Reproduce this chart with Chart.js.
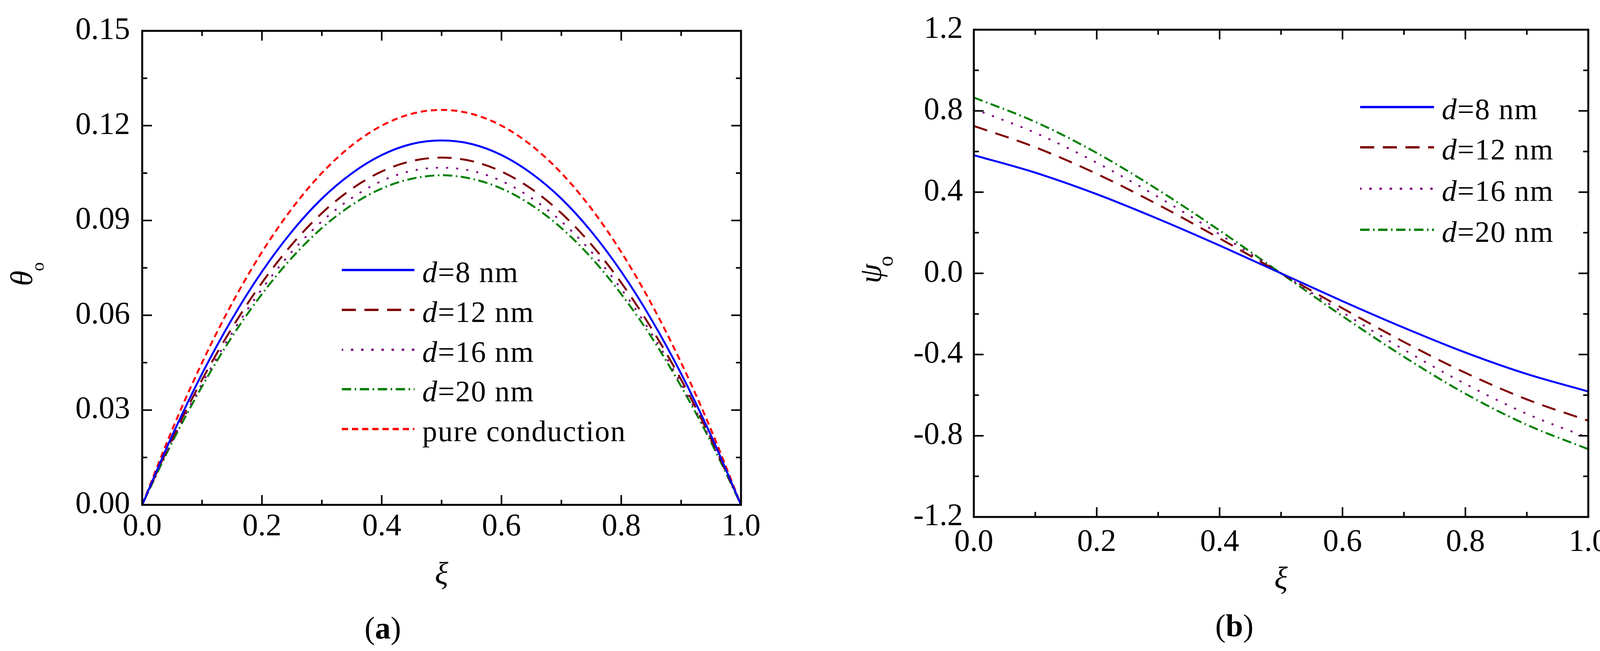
<!DOCTYPE html>
<html>
<head>
<meta charset="utf-8">
<script src="https://cdn.jsdelivr.net/npm/chart.js@4.4.0/dist/chart.umd.min.js"></script>
<style>
  html, body { margin: 0; padding: 0; background: #fff; overflow: hidden; }
  #page { position: relative; width: 4135px; height: 1666px; overflow: hidden;
          font-family: "Liberation Serif", "Times New Roman", serif; color: #000; }
  .box { position: absolute; top: 0; height: 1666px; }
  .legend { position: absolute; top: 0; }
  .row { position: absolute; left: 0; height: 100px; display: flex; align-items: center;
         white-space: nowrap; font-size: 76px; letter-spacing: 2px; }
  .row svg { flex: none; margin-right: 20px; }
  .row span { line-height: 100px; position: relative; top: 5px; }
  .tag { position: absolute; font-size: 80px; transform: translate(-50%, -50%); white-space: nowrap; }
</style>
</head>
<body>
<div id="page">
  <div class="box" style="left:0;width:2067px"><canvas id="chartA"></canvas></div>
  <div class="box" style="left:2067px;width:2068px"><canvas id="chartB"></canvas></div>
  <div class="legend" id="legendA" style="left:875px"></div>
  <div class="legend" id="legendB" style="left:3482px"></div>
  <div class="tag" style="left:980px;top:1607px">(<b>a</b>)</div>
  <div class="tag" style="left:3160px;top:1601px">(<b>b</b>)</div>
</div>
<script>
'use strict'

// ---- data, panel (a): theta_o vs xi ----
const xiA = [0, 0.05, 0.1, 0.15, 0.2, 0.25, 0.3, 0.35, 0.4, 0.45, 0.5,
  0.55, 0.6, 0.65, 0.7, 0.75, 0.8, 0.85, 0.9, 0.95, 1];
const thetaD8 = [0, 0.0219, 0.0415, 0.0588, 0.0738, 0.0865, 0.0969, 0.1049, 0.1107, 0.1142, 0.1153,
  0.1142, 0.1107, 0.1049, 0.0969, 0.0865, 0.0738, 0.0588, 0.0415, 0.0219, 0];
const thetaD12 = [0, 0.0209, 0.0396, 0.0560, 0.0703, 0.0824, 0.0923, 0.1000, 0.1055, 0.1088, 0.1099,
  0.1088, 0.1055, 0.1000, 0.0923, 0.0824, 0.0703, 0.0560, 0.0396, 0.0209, 0];
const thetaD16 = [0, 0.0203, 0.0384, 0.0544, 0.0683, 0.0801, 0.0897, 0.0971, 0.1025, 0.1057, 0.1067,
  0.1057, 0.1025, 0.0971, 0.0897, 0.0801, 0.0683, 0.0544, 0.0384, 0.0203, 0];
const thetaD20 = [0, 0.0198, 0.0375, 0.0532, 0.0667, 0.0782, 0.0876, 0.0949, 0.1001, 0.1032, 0.1043,
  0.1032, 0.1001, 0.0949, 0.0876, 0.0782, 0.0667, 0.0532, 0.0375, 0.0198, 0];
const thetaPure = [0, 0.02375, 0.045, 0.06375, 0.08, 0.09375, 0.105, 0.11375, 0.12, 0.12375, 0.125,
  0.12375, 0.12, 0.11375, 0.105, 0.09375, 0.08, 0.06375, 0.045, 0.02375, 0];

// ---- data, panel (b): psi_o vs xi ----
const xiB = [0, 0.1, 0.2, 0.3, 0.4, 0.5, 0.6, 0.7, 0.8, 0.9, 1];
const psiD8 = [0.582, 0.496, 0.390, 0.268, 0.137, 0, -0.137, -0.268, -0.390, -0.496, -0.582];
const psiD12 = [0.726, 0.621, 0.490, 0.338, 0.172, 0, -0.172, -0.338, -0.490, -0.621, -0.726];
const psiD16 = [0.810, 0.692, 0.545, 0.376, 0.192, 0, -0.192, -0.376, -0.545, -0.692, -0.810];
const psiD20 = [0.866, 0.746, 0.593, 0.411, 0.211, 0, -0.211, -0.411, -0.593, -0.746, -0.866];

// ---- axes ----
const xMajor = [0, 0.2, 0.4, 0.6, 0.8, 1.0];
const xMinor = [0.1, 0.3, 0.5, 0.7, 0.9];
const xLabels = ['0.0', '0.2', '0.4', '0.6', '0.8', '1.0'];
const yMajorA = [0, 0.03, 0.06, 0.09, 0.12, 0.15];
const yMinorA = [0.015, 0.045, 0.075, 0.105, 0.135];
const yLabelsA = ['0.00', '0.03', '0.06', '0.09', '0.12', '0.15'];
const yMajorB = [-1.2, -0.8, -0.4, 0, 0.4, 0.8, 1.2];
const yMinorB = [-1.0, -0.6, -0.2, 0.2, 0.6, 1.0];
const yLabelsB = ['-1.2', '-0.8', '-0.4', '0.0', '0.4', '0.8', '1.2'];

// ---- line looks ----
const looks = [
  { color: '#0000ff', dash: [], cap: 'butt' },
  { color: '#800000', dash: [36, 22], cap: 'butt' },
  { color: '#800080', dash: [1, 25], cap: 'round' },
  { color: '#008000', dash: [24, 9, 4, 9], cap: 'butt' },
  { color: '#ff0000', dash: [16, 10], cap: 'butt' }
];

const serif = '"Liberation Serif", "Times New Roman", serif';
Chart.defaults.font.family = serif;
Chart.defaults.color = '#000';

function pts(xs, ys) {
  return xs.map((v, i) => ({ x: v, y: ys[i] }));
}

function makeSet(label, xs, ys, look) {
  return {
    label: label,
    data: pts(xs, ys),
    borderColor: look.color,
    borderWidth: 5,
    borderDash: look.dash,
    borderCapStyle: look.cap,
    pointRadius: 0,
    fill: false,
    cubicInterpolationMode: 'monotone'
  };
}

// frame, inward ticks on all four sides, axis titles
const frameTicks = {
  id: 'frameTicks',
  afterDatasetsDraw(chart, args, opts) {
    const ctx = chart.ctx;
    const a = chart.chartArea;
    const x = chart.scales.x;
    const y = chart.scales.y;
    ctx.save();
    ctx.strokeStyle = '#000';
    ctx.lineWidth = 5;
    ctx.strokeRect(a.left, a.top, a.right - a.left, a.bottom - a.top);
    ctx.lineWidth = 4;
    ctx.beginPath();
    function xt(list, len) {
      list.forEach(v => {
        const px = x.getPixelForValue(v);
        ctx.moveTo(px, a.bottom); ctx.lineTo(px, a.bottom - len);
        ctx.moveTo(px, a.top); ctx.lineTo(px, a.top + len);
      });
    }
    function yt(list, len) {
      list.forEach(v => {
        const py = y.getPixelForValue(v);
        ctx.moveTo(a.left, py); ctx.lineTo(a.left + len, py);
        ctx.moveTo(a.right, py); ctx.lineTo(a.right - len, py);
      });
    }
    xt(opts.xMajor, 25); xt(opts.xMinor, 13);
    yt(opts.yMajor, 25); yt(opts.yMinor, 13);
    ctx.stroke();

    // x title
    ctx.fillStyle = '#000';
    ctx.font = 'italic 80px ' + serif;
    ctx.textAlign = 'center';
    ctx.textBaseline = 'middle';
    ctx.fillText('ξ', (a.left + a.right) / 2, a.bottom + opts.xTitleDy);

    // y title, rotated, with subscript
    ctx.translate(a.left + opts.yTitleDx, a.top + opts.yTitleDy);
    ctx.rotate(-Math.PI / 2);
    ctx.textAlign = 'left';
    ctx.textBaseline = 'alphabetic';
    ctx.font = 'italic 80px ' + serif;
    ctx.fillText(opts.yTitle, 0, 0);
    ctx.font = opts.subSize + 'px ' + serif;
    ctx.fillText(opts.ySub, opts.subX, opts.subDrop);
    ctx.restore();
  }
};

function xScale(height, pad) {
  return {
    type: 'linear', min: 0, max: 1,
    grid: { display: false, drawTicks: false },
    border: { display: false },
    ticks: { font: { size: 80 }, padding: pad, maxRotation: 0, autoSkip: false,
             callback: (v, i) => xLabels[i] },
    afterBuildTicks: s => { s.ticks = xMajor.map(v => ({ value: v })); },
    afterFit: s => { s.height = height; }
  };
}

function yScale(min, max, major, labels, width, pad) {
  return {
    type: 'linear', min: min, max: max,
    grid: { display: false, drawTicks: false },
    border: { display: false },
    ticks: { font: { size: 80 }, padding: pad, autoSkip: false,
             callback: (v, i) => labels[i] },
    afterBuildTicks: s => { s.ticks = major.map(v => ({ value: v })); },
    afterFit: s => { s.width = width; }
  };
}

const legendA = ['d=8 nm', 'd=12 nm', 'd=16 nm', 'd=20 nm', 'pure conduction'];

new Chart(document.getElementById('chartA'), {
  type: 'line',
  data: {
    datasets: [
      makeSet(legendA[0], xiA, thetaD8, looks[0]),
      makeSet(legendA[1], xiA, thetaD12, looks[1]),
      makeSet(legendA[2], xiA, thetaD16, looks[2]),
      makeSet(legendA[3], xiA, thetaD20, looks[3]),
      makeSet(legendA[4], xiA, thetaPure, looks[4])
    ]
  },
  options: {
    animation: false,
    responsive: true,
    maintainAspectRatio: false,
    devicePixelRatio: 1,
    layout: { padding: { left: 0, right: 170, top: 55, bottom: 0 } },
    plugins: {
      legend: { display: false },
      tooltip: { enabled: false },
      frameTicks: {
        xMajor: xMajor, xMinor: xMinor, yMajor: yMajorA, yMinor: yMinorA,
        xTitleDy: 181, yTitleDx: -282, yTitleDy: 653,
        yTitle: 'θ', ySub: 'o', subSize: 46, subX: 38, subDrop: 30
      }
    },
    scales: {
      x: xScale(374, 9),
      y: yScale(0, 0.15, yMajorA, yLabelsA, 364, 31)
    }
  },
  plugins: [frameTicks]
});

const legendB = ['d=8 nm', 'd=12 nm', 'd=16 nm', 'd=20 nm'];

new Chart(document.getElementById('chartB'), {
  type: 'line',
  data: {
    datasets: [
      makeSet(legendB[0], xiB, psiD8, looks[0]),
      makeSet(legendB[1], xiB, psiD12, looks[1]),
      makeSet(legendB[2], xiB, psiD16, looks[2]),
      makeSet(legendB[3], xiB, psiD20, looks[3])
    ]
  },
  options: {
    animation: false,
    responsive: true,
    maintainAspectRatio: false,
    devicePixelRatio: 1,
    layout: { padding: { left: 0, right: 69, top: 58, bottom: 0 } },
    plugins: {
      legend: { display: false },
      tooltip: { enabled: false },
      frameTicks: {
        xMajor: xMajor, xMinor: xMinor, yMajor: yMajorB, yMinor: yMinorB,
        xTitleDy: 162, yTitleDx: -238, yTitleDy: 649,
        yTitle: 'ψ', ySub: 'o', subSize: 54, subX: 43, subDrop: 30
      }
    },
    scales: {
      x: xScale(343, 18),
      y: yScale(-1.2, 1.2, yMajorB, yLabelsB, 426, 28)
    }
  },
  plugins: [frameTicks]
});

// html legends, italic d
function buildLegend(el, rows, rowYs, sampleW) {
  rows.forEach((txt, i) => {
    const look = looks[i];
    const row = document.createElement('div');
    row.className = 'row';
    row.style.top = (rowYs[i] - 50) + 'px';
    const svgNS = 'http://www.w3.org/2000/svg';
    const svg = document.createElementNS(svgNS, 'svg');
    svg.setAttribute('width', sampleW);
    svg.setAttribute('height', 100);
    const ln = document.createElementNS(svgNS, 'line');
    ln.setAttribute('x1', 0); ln.setAttribute('x2', sampleW);
    ln.setAttribute('y1', 50); ln.setAttribute('y2', 50);
    ln.setAttribute('stroke', look.color);
    ln.setAttribute('stroke-width', 6);
    ln.setAttribute('stroke-linecap', look.cap);
    if (look.dash.length) ln.setAttribute('stroke-dasharray', look.dash.join(' '));
    svg.appendChild(ln);
    row.appendChild(svg);
    const span = document.createElement('span');
    if (txt.startsWith('d=')) {
      const it = document.createElement('i');
      it.textContent = 'd';
      span.appendChild(it);
      span.appendChild(document.createTextNode(txt.slice(1)));
    } else {
      span.textContent = txt;
    }
    row.appendChild(span);
    el.appendChild(row);
  });
}

buildLegend(document.getElementById('legendA'), legendA, [691, 793, 895, 996, 1098], 186);
buildLegend(document.getElementById('legendB'), legendB, [274, 377, 483, 588], 189);
</script>
</body>
</html>
